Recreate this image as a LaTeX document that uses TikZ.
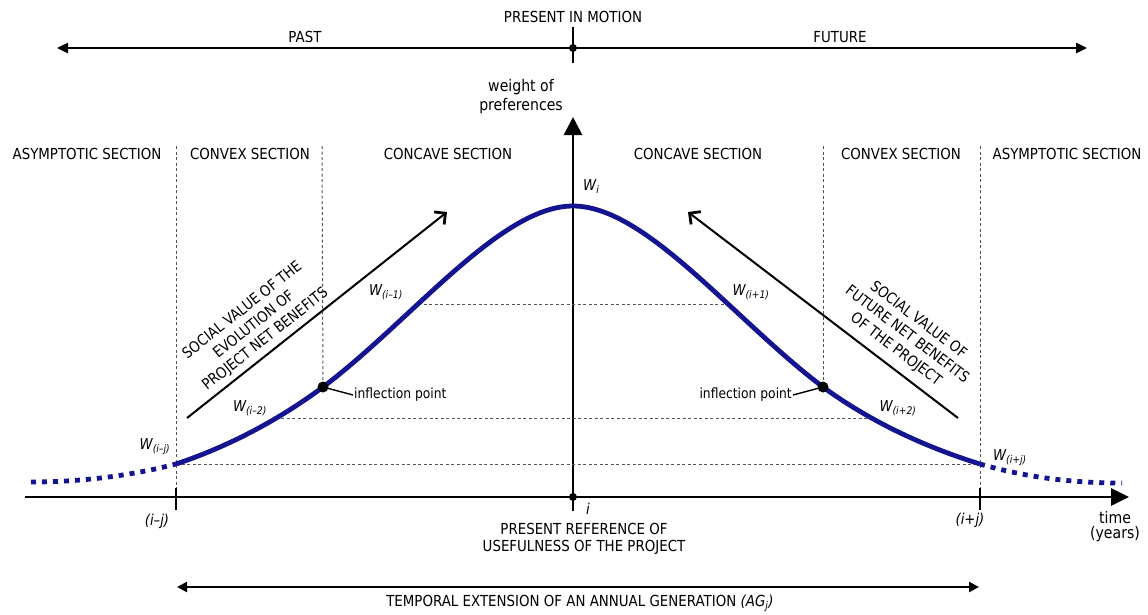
\documentclass[tikz,border=0pt]{standalone}
\usepackage{fontspec}
\setmainfont{DejaVu Sans}[FakeStretch=0.88]
\usetikzlibrary{arrows.meta}
\definecolor{curveblue}{RGB}{20,20,145}
\definecolor{guidegray}{RGB}{85,85,85}
\newcommand\fsCaps{\fontsize{15.2}{17}\selectfont}
\newcommand\fsBig{\fontsize{16}{19}\selectfont}
\newcommand\fsSmall{\fontsize{14}{16}\selectfont}
\newcommand\fsW{\fontsize{15}{17}\selectfont\itshape}
\newcommand\fsSlant{\fontsize{15}{18.5}\selectfont}

\begin{document}
\begin{tikzpicture}[x=1pt,y=-1pt,
  txt/.style={inner sep=0pt, font=\fsCaps},
  wlabel/.style={inner sep=0pt, font=\fsW},
  guide/.style={draw=guidegray, line width=1pt, dash pattern=on 3pt off 2.5pt},
  axisline/.style={line width=2.8pt},
  timeline/.style={line width=2.4pt, {Triangle[length=11pt,width=10pt]}-{Triangle[length=11pt,width=10pt]}},
  benefit/.style={line width=2pt, -{Straight Barb[length=8pt,width=16pt,line width=2.8pt]}},
  curve/.style={draw=curveblue, line width=4.8pt},
  tail/.style={draw=curveblue, line width=4.8pt, dash pattern=on 5pt off 6pt},
  dot/.style={circle, fill=black, inner sep=0pt, minimum size=#1}
]
\useasboundingbox (0,0) rectangle (1148,614);

% ---------- top time line: past / present / future ----------
\coordinate (past) at (57,48);
\coordinate (future) at (1087,48);
\coordinate (nowtop) at (573,27);
\coordinate (nowbot) at (573,63);
\node[dot=8pt] (now) at (573,48) {};
\draw[timeline] (past) -- (future);
\draw[line width=2.4pt] (nowtop) -- (nowbot);
\node[txt] (motion) at (573,17) {PRESENT IN MOTION};
\node[txt] (pastlbl) at (305,37) {PAST};
\node[txt] (futurelbl) at (840,37) {FUTURE};

% ---------- axes ----------
\coordinate (ybot) at (573,511);
\coordinate (ytop) at (573,117);
\coordinate (xleft) at (25,497);
\coordinate (xright) at (1129,497);
\draw[axisline, -{Triangle[length=18pt,width=18pt]}] (ybot) -- (ytop);
\draw[axisline, -{Triangle[length=18pt,width=17pt]}] (xleft) -- (xright);
\node[dot=8pt] (origin) at (573,497) {};
\node[inner sep=0pt, font=\fsBig, align=center] (ylabel) at (521,97) {weight of\\preferences};
\node[inner sep=0pt, font=\fsBig, align=center] (xlabel) at (1115,527) {time\\[-4pt](years)};

% ticks on the time axis
\coordinate (tlTop) at (176,488);
\coordinate (tlBot) at (176,510);
\coordinate (trTop) at (980,488);
\coordinate (trBot) at (980,510);
\draw[line width=2.4pt] (tlTop) -- (tlBot);
\draw[line width=2.4pt] (trTop) -- (trBot);
\node[wlabel] (ijm) at (157,521) {(i–j)};
\node[wlabel] (ijp) at (970,520) {(i+j)};
\node[wlabel] (ilbl) at (588,509) {i};
\node[txt, align=center] (presref) at (584,538.5) {PRESENT REFERENCE OF\\USEFULNESS OF THE PROJECT};

% ---------- section boundaries ----------
\coordinate (b1top) at (176,146);
\coordinate (b2top) at (322,146);
\coordinate (b3top) at (823,146);
\coordinate (b4top) at (980,146);
\node[dot=10pt] (inflL) at (323,387) {};
\node[dot=10pt] (inflR) at (823,387) {};
\draw[guide] (b1top) -- (tlTop);
\draw[guide] (b4top) -- (trTop);
\draw[guide] (b2top) -- (inflL.center);
\draw[guide] (b3top) -- (inflR.center);

\node[txt] (sec1) at (87,154) {ASYMPTOTIC SECTION};
\node[txt] (sec2) at (250,154) {CONVEX SECTION};
\node[txt] (sec3) at (448,154) {CONCAVE SECTION};
\node[txt] (sec4) at (698,154) {CONCAVE SECTION};
\node[txt] (sec5) at (901,154) {CONVEX SECTION};
\node[txt] (sec6) at (1067,154) {ASYMPTOTIC SECTION};

% ---------- reference levels ----------
\coordinate (wlj) at (176,464);
\coordinate (wrj) at (980,464);
\coordinate (w2L) at (281,418);
\coordinate (w2R) at (870,418);
\coordinate (w1L) at (418,304);
\coordinate (w1R) at (726,304);
\coordinate (peak) at (573,206);
\draw[guide] (wlj) -- (wrj);
\draw[guide] (w2L) -- (w2R);
\draw[guide] (w1L) -- (w1R);

% ---------- weight curve ----------
\coordinate (tailL) at (31,482);
\coordinate (tailR) at (1122,483);
\draw[tail] (tailL) .. controls (80,482) and (130,476) .. (wlj);
\draw[tail] (wrj) .. controls (1025,477) and (1070,483) .. (tailR);
\draw[curve] (wlj) .. controls (230,446) and (280,419) .. (inflL.center)
  .. controls (412,320) and (500,206) .. (peak)
  .. controls (646,206) and (734,320) .. (inflR.center)
  .. controls (868,420) and (922,446) .. (wrj);
\node[dot=11pt] at (inflL) {};
\node[dot=11pt] at (inflR) {};

% curve labels
\node[wlabel, anchor=west] (wi) at (583,187) {W\textsubscript{i}};
\node[wlabel] (wim1) at (386,292) {W\textsubscript{(i–1)}};
\node[wlabel] (wip1) at (751,292) {W\textsubscript{(i+1)}};
\node[wlabel] (wim2) at (250,408) {W\textsubscript{(i–2)}};
\node[wlabel] (wip2) at (898,408) {W\textsubscript{(i+2)}};
\node[wlabel] (wimj) at (155,447) {W\textsubscript{(i–j)}};
\node[wlabel] (wipj) at (1010,458) {W\textsubscript{(i+j)}};

% inflection point call-outs
\node[inner sep=1pt, font=\fsSmall, anchor=west] (ipL) at (353,395) {inflection point};
\node[inner sep=1pt, font=\fsSmall, anchor=east] (ipR) at (793,395) {inflection point};
\draw[line width=1.4pt] (inflL.center) -- (ipL.west);
\draw[line width=1.4pt] (inflR.center) -- (ipR.east);

% ---------- social value arrows ----------
\coordinate (svL0) at (187,418);
\coordinate (svL1) at (447,212);
\coordinate (svR0) at (958,418);
\coordinate (svR1) at (688,212);
\draw[benefit] (svL0) -- (svL1);
\draw[benefit] (svR0) -- (svR1);
\node[txt, align=center, rotate=38.4, font=\fsSlant] (svLtext) at (254,325)
  {SOCIAL VALUE OF THE\\EVOLUTION OF\\PROJECT NET BENEFITS};
\node[txt, align=center, rotate=-37.3, font=\fsSlant] (svRtext) at (907,335)
  {SOCIAL VALUE OF\\FUTURE NET BENEFITS\\OF THE PROJECT};

% ---------- annual generation span ----------
\coordinate (agL) at (177,587);
\coordinate (agR) at (979,587);
\draw[line width=2.2pt, {Triangle[length=10pt,width=10pt]}-{Triangle[length=10pt,width=10pt]}] (agL) -- (agR);
\node[txt] (aglbl) at (580,603) {TEMPORAL EXTENSION OF AN ANNUAL GENERATION \textit{(AG\textsubscript{j})}};
\end{tikzpicture}
\end{document}
